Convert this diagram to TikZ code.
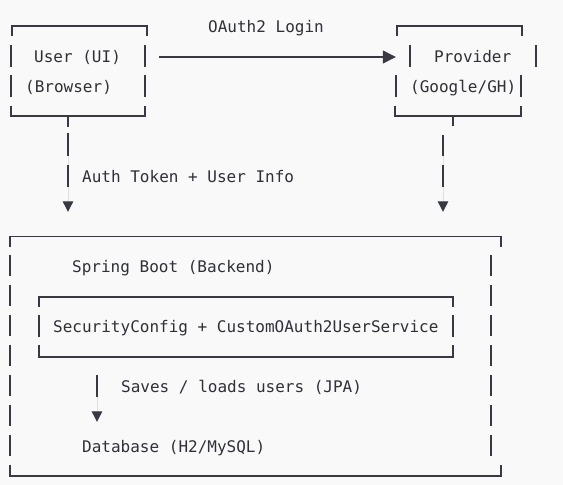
\documentclass[tikz,border=0pt]{standalone}
\usepackage{fontspec}
\newfontfamily\codefont{DejaVu Sans Mono}
\usetikzlibrary{arrows.meta}
\definecolor{bg}{HTML}{F9F9F9}
\definecolor{ink}{HTML}{2F3038}
\definecolor{rulec}{HTML}{383942}
\begin{document}
\begin{tikzpicture}[x=1pt,y=-1pt,
  lbl/.style={anchor=base west, inner sep=0pt, font=\codefont\fontsize{16}{19}\selectfont, text=ink, text height=12pt, text depth=4pt},
  area/.style={draw=none, inner sep=0pt},
  rule/.style={draw=rulec, line width=1.2pt},
  conn/.style={draw=rulec, line width=1.2pt},
  downtip/.style={-{Triangle[width=10.5pt,length=10.5pt]}, fill=rulec}
]
\fill[bg] (0,0) rectangle (563,485);
\useasboundingbox (0,0) rectangle (563,485);

% box areas
\node[area, minimum width=134pt, minimum height=90pt] (userbox) at (79,71) {};
\node[area, minimum width=126pt, minimum height=90pt] (provbox) at (459,71) {};
\node[area, minimum width=491pt, minimum height=239.5pt] (backend) at (255.5,356.25) {};
\node[area, minimum width=414pt, minimum height=60pt] (secbox) at (246,327) {};

% texts
\node[lbl] (login) at (208,32) {OAuth2 Login};
\node[lbl] (user1) at (34,62) {User (UI)};
\node[lbl] (user2) at (25,92) {(Browser)};
\node[lbl] (prov1) at (434,62) {Provider};
\node[lbl] (prov2) at (410,92) {(Google/GH)};
\node[lbl] (auth) at (82,182) {Auth Token + User Info};
\node[lbl] (spring) at (72,272) {Spring Boot (Backend)};
\node[lbl] (sec) at (53,332) {SecurityConfig + CustomOAuth2UserService};
\node[lbl] (saves) at (121,392) {Saves / loads users (JPA)};
\node[lbl] (db) at (82,452) {Database (H2/MySQL)};

% user box border
\draw[rule] (12,36) -- (12,26) -- (147,26) -- (147,36);
\draw[rule] (11,106) -- (11,116) -- (145,116) -- (145,106);
\draw[rule] (68,116) -- (68,127);
\foreach \r in {56,86} {
  \draw[rule] (11,\r-11) -- (11,\r+11);
  \draw[rule] (145,\r-11) -- (145,\r+11);
}

% provider box border
\draw[rule] (397,36) -- (397,26) -- (522,26) -- (522,36);
\draw[rule] (395,106) -- (395,116) -- (521,116) -- (521,106);
\draw[rule] (453,116) -- (453,126);
\draw[rule] (410,45) -- (410,67);
\draw[rule] (536,45) -- (536,67);
\draw[rule] (396,75) -- (396,97);
\draw[rule] (521,75) -- (521,97);

% backend box border
\draw[rule] (10,247) -- (10,236.5) -- (501,236.5) -- (501,247);
\draw[rule] (10,465) -- (10,476) -- (501,476) -- (501,465);
\foreach \r in {266,296,...,446} {
  \draw[rule] (10,\r-11) -- (10,\r+10);
  \draw[rule] (491,\r-11) -- (491,\r+10);
}

% security box border
\draw[rule] (39,307) -- (39,297) -- (453,297) -- (453,307);
\draw[rule] (39,345) -- (39,357) -- (453,357) -- (453,345);
\draw[rule] (39,315) -- (39,337);
\draw[rule] (453,315) -- (453,337);

% connectors
\draw[conn, -{Triangle[width=13pt,length=13pt]}, fill=rulec]
  ([shift={(13,-14)}]userbox.east) -- ([shift={(0,-14)}]provbox.west);
\draw[conn, downtip, dash pattern=on 23pt off 9pt on 22pt off 40pt]
  ([shift={(-11,17)}]userbox.south) -- ([shift={(-187.5,-24.5)}]backend.north);
\draw[conn, downtip, dash pattern=on 21pt off 9pt on 22pt off 40pt]
  ([shift={(-16,19)}]provbox.south) -- ([shift={(187.5,-24.5)}]backend.north);
\draw[conn, downtip, dash pattern=on 22pt off 40pt]
  ([shift={(-149,18)}]secbox.south) -- ([shift={(15,-18)}]db.north west);
\end{tikzpicture}
\end{document}
